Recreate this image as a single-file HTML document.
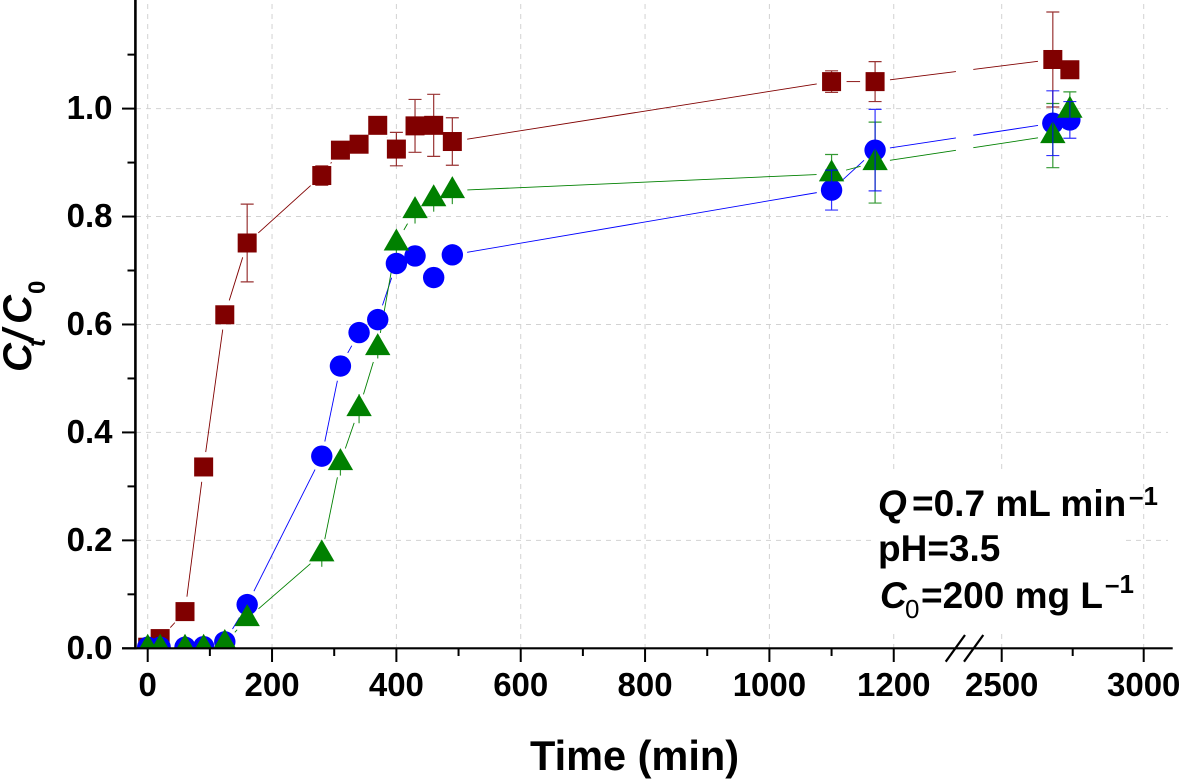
<!DOCTYPE html>
<html lang="en">
<head>
<meta charset="utf-8">
<title>Ct/C0 breakthrough curves</title>
<style>
html,body{margin:0;padding:0;background:#fff;}
svg{display:block;font-family:"Liberation Sans",sans-serif;font-weight:bold;fill:#000;}
</style>
</head>
<body>
<svg id="chart" width="1181" height="779" viewBox="0 0 1181 779" xmlns="http://www.w3.org/2000/svg">
<defs><clipPath id="plot-clip"><rect x="135" y="0" width="1040" height="648.3"/></clipPath></defs>
<rect width="1181" height="779" fill="#fff"/>
<g id="grid"></g>
<rect x="874" y="473" width="252" height="160" fill="#fff"/>
<g id="lines"></g>
<g id="marks" clip-path="url(#plot-clip)"></g>
<g id="axes"></g>
<text x="634.5" y="770" text-anchor="middle" font-size="41.5">Time (min)</text>
<text transform="translate(31,372) rotate(-90)" font-size="40" font-style="italic"><tspan x="0" y="0">C</tspan><tspan x="25" y="14" font-size="25">t</tspan><tspan x="31" y="0">/</tspan><tspan x="48" y="0">C</tspan><tspan x="78" y="14" font-size="24" font-style="normal">0</tspan></text>
<g font-size="37">
<text y="516"><tspan x="878" font-style="italic">Q</tspan><tspan x="912">=0.7 mL min</tspan><tspan x="1129" y="505" font-size="26">–1</tspan></text>
<text x="878" y="561">pH=3.5</text>
<text y="608"><tspan x="880" font-style="italic">C</tspan><tspan x="905" y="618" font-size="26" font-weight="normal">0</tspan><tspan x="921" y="608">=200 mg L</tspan><tspan x="1105" y="593" font-size="26">–1</tspan></text>
</g>
</svg>
<script>
const times = [0, 20, 60, 90, 124, 160, 280, 310, 340, 370, 400, 430, 460, 490, 1100, 1170, 2680, 2740];
const redValues = [0.002, 0.018, 0.068, 0.336, 0.618, 0.751, 0.876, 0.923, 0.934, 0.969, 0.925, 0.968, 0.969, 0.939, 1.05, 1.05, 1.091, 1.072];
const redErrors = [0, 0, 0, 0, 0, 0.072, 0.018, 0, 0, 0, 0.031, 0.049, 0.0575, 0.044, 0.02, 0.037, 0.088, 0];
const blueValues = [0.002, 0.002, 0.002, 0.003, 0.012, 0.081, 0.356, 0.523, 0.585, 0.609, 0.713, 0.727, 0.687, 0.729, 0.849, 0.923, 0.973, 0.979];
const blueErrors = [0, 0, 0, 0, 0, 0, 0, 0, 0, 0, 0, 0, 0, 0, 0.037, 0.0755, 0.06, 0.034];
const greenValues = [0, 0, 0, 0, 0.009, 0.055, 0.175, 0.344, 0.444, 0.557, 0.751, 0.811, 0.833, 0.848, 0.879, 0.9, 0.95, 0.997];
const greenErrors = [0, 0, 0, 0, 0, 0, 0.024, 0.024, 0.027, 0.02, 0.019, 0.024, 0.024, 0.025, 0.036, 0.075, 0.0595, 0.034];
const xMajorTicks = [0, 200, 400, 600, 800, 1000, 1200, 2500, 3000];
const xMinorTicks = [100, 300, 500, 700, 900, 1100, 2750];
const yMajorTicks = [0, 0.2, 0.4, 0.6, 0.8, 1.0];
const yMinorTicks = [0.1, 0.3, 0.5, 0.7, 0.9, 1.1];
const yGridTicks = [0.2, 0.4, 0.6, 0.8, 1.0];

const breakStart = 1300;
const breakEnd = 2400;
function X(t) {
  return t <= breakStart ? 147.7 + t * 0.6217 : 1001.7 + (t - 2500) * 0.284;
}
function Y(v) {
  return 648.3 - v * 539.7;
}
const NS = 'http://www.w3.org/2000/svg';
function make(parent, tag, attrs) {
  const el = document.createElementNS(NS, tag);
  for (const k in attrs) el.setAttribute(k, attrs[k]);
  parent.appendChild(el);
  return el;
}
const grid = document.getElementById('grid');
const axes = document.getElementById('axes');
const linesLayer = document.getElementById('lines');
const marksLayer = document.getElementById('marks');

xMajorTicks.forEach(function (t) {
  const el = make(grid, 'line', {x1: X(t), x2: X(t), y1: 4, y2: 648, stroke: '#d2d2d2', 'stroke-width': 1, 'stroke-dasharray': '5 5'});
  
  
});
yGridTicks.forEach(function (v) {
  const el = make(grid, 'line', {x1: 136, x2: 1168, y1: Y(v), y2: Y(v), stroke: '#d2d2d2', 'stroke-width': 1, 'stroke-dasharray': '5 5'});
  
  
});

function drawLine(values, color, name) {
  const gap = 15;
  for (let i = 0; i < times.length - 1; i++) {
    const x0 = X(times[i]), y0 = Y(values[i]), x1 = X(times[i + 1]), y1 = Y(values[i + 1]);
    const len = Math.hypot(x1 - x0, y1 - y0);
    if (len <= 2 * gap) continue;
    const ux = (x1 - x0) / len, uy = (y1 - y0) / len;
    const ax = x0 + ux * gap, ay = y0 + uy * gap, bx = x1 - ux * gap, by = y1 - uy * gap;
    let parts = [[ax, ay, bx, by]];
    const bs = X(breakStart), be = X(breakEnd);
    if (ax < bs && bx > be) {
      const at = function (x) { return ay + (by - ay) * (x - ax) / (bx - ax); };
      parts = [[ax, ay, bs, at(bs)], [be, at(be), bx, by]];
    }
    parts.forEach(function (p) {
      const el = make(linesLayer, 'line', {x1: p[0], y1: p[1], x2: p[2], y2: p[3], stroke: color, 'stroke-width': 0.9});
      
      
    });
  }
}
drawLine(redValues, '#800000', 'red-series-line');
drawLine(blueValues, '#0000ff', 'blue-series-line');
drawLine(greenValues, '#008000', 'green-series-line');

function drawErrors(values, errors, color, name, capMin) {
  times.forEach(function (t, i) {
    if (!errors[i]) return;
    const x = X(t), top = Y(values[i] + errors[i]), bot = Y(values[i] - errors[i]);
    const d = 'M' + x + ' ' + top + 'V' + bot + (errors[i] >= capMin ? 'M' + (x - 6.5) + ' ' + top + 'h13M' + (x - 6.5) + ' ' + bot + 'h13' : '');
    const el = make(marksLayer, 'path', {d: d, stroke: color, 'stroke-width': 1.2, fill: 'none', 'stroke-opacity': 0.8});
    
    
  });
}
drawErrors(redValues, redErrors, '#800000', 'red-error-bar', 0);
times.forEach(function (t, i) {
  const el = make(marksLayer, 'rect', {x: X(t) - 9.5, y: Y(redValues[i]) - 9.5, width: 19, height: 19, fill: '#800000'});
  
  
});
drawErrors(greenValues, greenErrors, '#008000', 'green-error-bar', 0.03);
times.forEach(function (t, i) {
  const el = make(marksLayer, 'circle', {cx: X(t), cy: Y(blueValues[i]), r: 10.7, fill: '#0000ff'});
  
  
});
times.forEach(function (t, i) {
  const x = X(t), y = Y(greenValues[i]);
  const pts = x + ',' + (y - 14.5) + ' ' + (x - 12.7) + ',' + (y + 7.5) + ' ' + (x + 12.7) + ',' + (y + 7.5);
  const el = make(marksLayer, 'polygon', {points: pts, fill: '#008000'});
  
  
});
drawErrors(blueValues, blueErrors, '#0000ff', 'blue-error-bar', 0);

const xAxisLine = make(axes, 'line', {x1: 122, x2: 1172.7, y1: 648.3, y2: 648.3, stroke: '#000', 'stroke-width': 2.2});


const yAxisLine = make(axes, 'line', {x1: 135.4, x2: 135.4, y1: 0, y2: 649.4, stroke: '#000', 'stroke-width': 2.6});



xMajorTicks.forEach(function (t) {
  const tick = make(axes, 'line', {x1: X(t), x2: X(t), y1: 648, y2: 662, stroke: '#000', 'stroke-width': 2});
  
  
  const label = make(axes, 'text', {x: X(t), y: 696, 'text-anchor': 'middle', 'font-size': 33});
  
  
  label.textContent = String(t);
});
xMinorTicks.forEach(function (t) {
  const tick = make(axes, 'line', {x1: X(t), x2: X(t), y1: 648, y2: 656, stroke: '#000', 'stroke-width': 2});
  
  
});
yMajorTicks.forEach(function (v) {
  const tick = make(axes, 'line', {x1: 122, x2: 135, y1: Y(v), y2: Y(v), stroke: '#000', 'stroke-width': 2});
  
  
  const label = make(axes, 'text', {x: 112.5, y: Y(v) + 10.5, 'text-anchor': 'end', 'font-size': 33});
  
  
  label.textContent = v.toFixed(1);
});
yMinorTicks.forEach(function (v) {
  const tick = make(axes, 'line', {x1: 127.5, x2: 135, y1: Y(v), y2: Y(v), stroke: '#000', 'stroke-width': 2});
  
  
});
const slashA = make(axes, 'line', {x1: 945.7, y1: 661.7, x2: 965, y2: 635, stroke: '#000', 'stroke-width': 2.2});


const slashB = make(axes, 'line', {x1: 964, y1: 661.7, x2: 983.3, y2: 635, stroke: '#000', 'stroke-width': 2.2});


</script>
</body>
</html>
